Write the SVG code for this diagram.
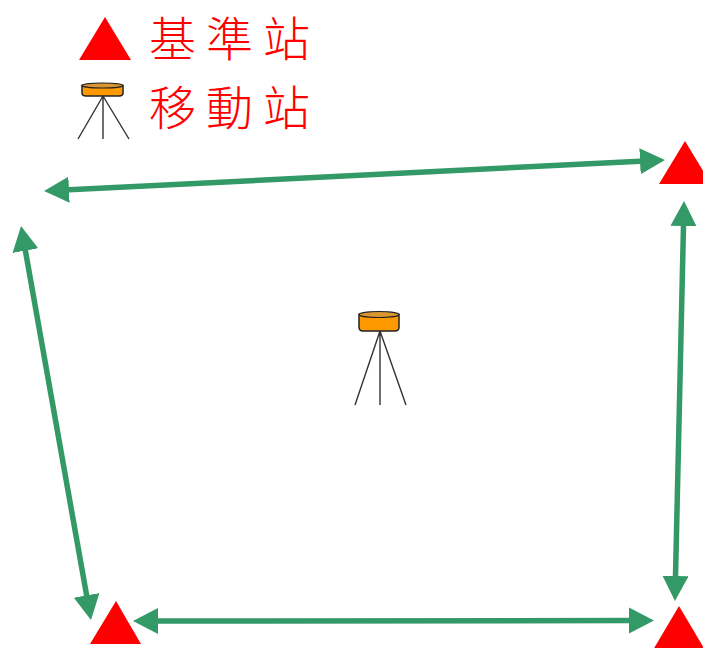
<svg xmlns="http://www.w3.org/2000/svg" width="703" height="648" viewBox="0 0 703 648">
<style>
.tri{fill:#ff0000}
.conn{stroke:#339966;stroke-width:5.500;fill:none;marker-start:url(#arr);marker-end:url(#arr)}
.lab{fill:#ff0000;font-family:"Noto Sans CJK TC","Noto Sans CJK SC",serif;font-size:47px;letter-spacing:10px;font-weight:300}
.body{fill:#ff9900;stroke:#222222;stroke-width:1.5}
.top{fill:#d9962e;stroke:#222222;stroke-width:1.2}
.leg{stroke:#333333;stroke-width:1.400;fill:none}
</style>
<defs>
<marker id="arr" markerUnits="userSpaceOnUse" markerWidth="26" markerHeight="27" refX="5" refY="13" orient="auto-start-reverse">
<path d="M0 0L25 13L0 26Z" fill="#339966"/>
</marker>
</defs>
<rect width="703" height="648" fill="#ffffff"/>
<g id="legend-base">
<path class="tri" d="M105 17L131 60H79Z"/>
<text class="lab" x="149" y="56">基準站</text>
</g>
<g id="legend-rover">
<path class="leg" d="M103 96L78 139M103 96V139M103 96L129 139"/>
<path class="body" d="M82 85.500V93Q82 96 86 96H119Q123 96 123 93V85.500Z"/>
<ellipse class="top" cx="102.500" cy="85.500" rx="20.500" ry="2.500"/>
<text class="lab" x="149" y="125">移動站</text>
</g>
<g id="base-top-right"><path class="tri" d="M685 141L711 184H659Z"/></g>
<g id="base-bottom-left"><path class="tri" d="M116 601L141 644H90Z"/></g>
<g id="base-bottom-right"><path class="tri" d="M679 606L705 650H653Z"/></g>
<g id="rover">
<path class="leg" d="M380 331L355 405M380 331V405M380 331L406 405"/>
<path class="body" d="M359 314.500V327Q359 331 363 331H395Q399 331 399 327V314.500Z"/>
<ellipse class="top" cx="379" cy="314.500" rx="20" ry="3"/>
</g>
<g id="connectors">
<line class="conn" x1="64" y1="190" x2="645" y2="161"/>
<line class="conn" x1="24.500" y1="245.700" x2="87.500" y2="600.300"/>
<line class="conn" x1="683.600" y1="221" x2="675.400" y2="581"/>
<line class="conn" x1="153" y1="621" x2="634" y2="620.500"/>
</g>
</svg>
